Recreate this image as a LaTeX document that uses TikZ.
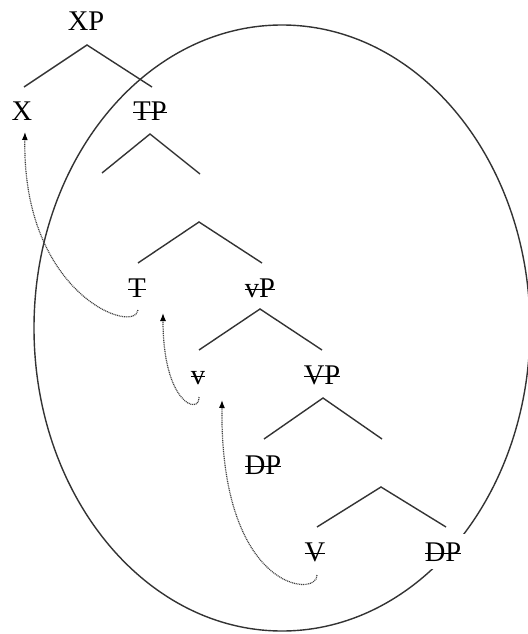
\documentclass[tikz,border=0pt]{standalone}
\usepackage{fontspec}
\setmainfont{Liberation Serif}
\usetikzlibrary{arrows.meta}
% struck-through label: a rule laid over the text at about a third of cap height
\newcommand\strk[1]{\setbox0=\hbox{#1}\rlap{\rule[0.23em]{\wd0}{0.06em}}#1}

\begin{document}
\begin{tikzpicture}[x=1pt,y=-1pt,
  lbl/.style={anchor=base, inner sep=0pt, font=\fontsize{28.5}{32}\selectfont},
  branch/.style={line width=1.4pt, draw=black!80},
  move/.style={line width=1.2pt, draw=black!75, dash pattern=on 1pt off 0.8pt,
    -{Latex[length=8pt,width=6pt,color=black]}},
  ]
\useasboundingbox (0,0) rectangle (527,634);

% the enclosing ellipse
\draw[branch] (282,328) ellipse [x radius=248, y radius=303];

% labels
\node[lbl] (XP) at (86,31) {XP};
\node[lbl] (X) at (22,120) {X};
\node[lbl] (TP) at (150,120) {\strk{TP}};
\node[lbl] (T) at (137,297) {\strk{T}};
\node[lbl] (vP) at (260,297) {\strk{vP}};
\node[lbl] (v) at (198,384) {\strk{v}};
\node[lbl] (VP) at (322,384) {\strk{VP}};
\node[lbl] (DPs) at (263,474) {\strk{DP}};
\node[lbl] (V) at (315,561) {\strk{V}};
\node[lbl, fill=white, inner xsep=5pt, inner ysep=8pt] (DPo) at (443,561) {\strk{DP}};

% branch points
\coordinate (XPa) at (87,45);   \coordinate (XPl) at (24,87);   \coordinate (XPr) at (152,87);
\coordinate (TPa) at (150,134); \coordinate (TPl) at (102,173); \coordinate (TPr) at (200,174);
\coordinate (Tba) at (199,222); \coordinate (Tbl) at (138,263); \coordinate (Tbr) at (262,263);
\coordinate (vPa) at (260,309); \coordinate (vPl) at (199,350); \coordinate (vPr) at (322,350);
\coordinate (VPa) at (323,398); \coordinate (VPl) at (264,439); \coordinate (VPr) at (382,439);
\coordinate (Vba) at (381,487); \coordinate (Vbl) at (317,527); \coordinate (Vbr) at (446,527);

\draw[branch] (XPl) -- (XPa) -- (XPr);
\draw[branch] (TPl) -- (TPa) -- (TPr);
\draw[branch] (Tbl) -- (Tba) -- (Tbr);
\draw[branch] (vPl) -- (vPa) -- (vPr);
\draw[branch] (VPl) -- (VPa) -- (VPr);
\draw[branch] (Vbl) -- (Vba) -- (Vbr);

% head movement
\coordinate (Tsrc) at (138,310); \coordinate (Xtip) at (25,132);
\coordinate (vsrc) at (199,397); \coordinate (Ttip) at (163,313);
\coordinate (Vsrc) at (317,575); \coordinate (vtip) at (222,400);
\draw[move] (Tsrc) .. controls (135,335) and (22,295) .. (Xtip);
\draw[move] (vsrc) .. controls (200,415) and (163,405) .. (Ttip);
\draw[move] (Vsrc) .. controls (318,598) and (220,592) .. (vtip);
\end{tikzpicture}
\end{document}
